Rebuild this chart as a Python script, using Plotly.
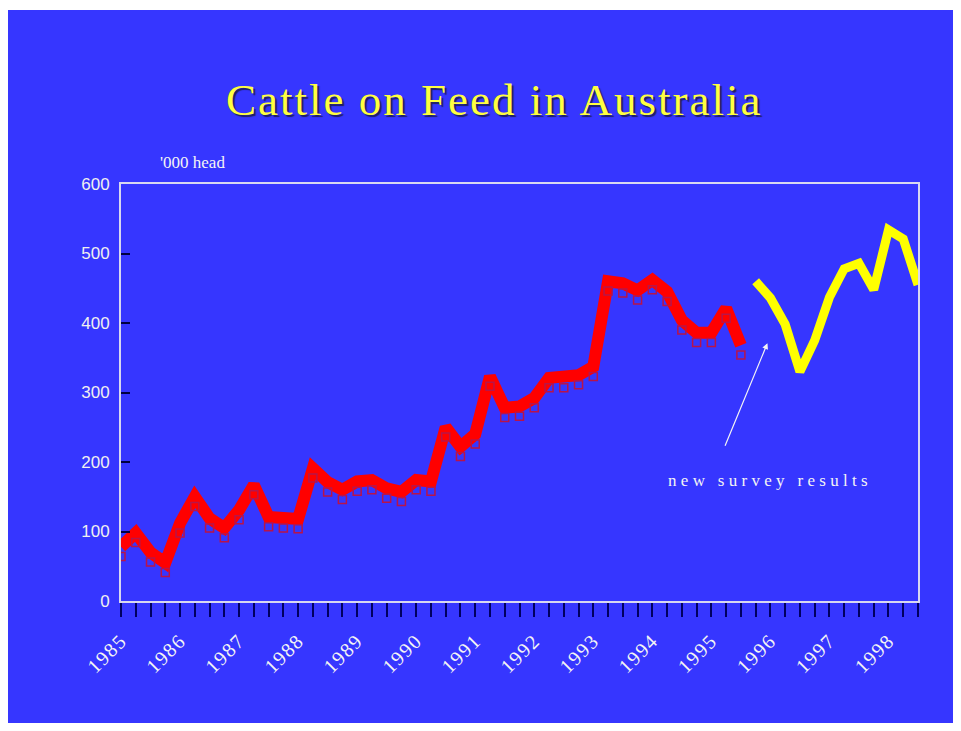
import plotly.graph_objects as go

# quarterly series, '000 head, starting 1985 Q1
start_year = 1985
old_survey = [78, 98, 70, 55, 112, 150, 119, 105, 131, 167, 121, 119, 118,
              191, 171, 160, 172, 174, 162, 157, 174, 172, 250, 222, 240,
              323, 278, 280, 292, 321, 321, 325, 337, 460, 457, 447, 462,
              445, 404, 386, 386, 421, 368]
new_survey = [460, 436, 398, 330, 375, 437, 478, 486, 448, 534, 521, 455]
years = list(range(1985, 1999))
y_ticks = [0, 100, 200, 300, 400, 500, 600]

x_old = [start_year + q / 4 for q in range(len(old_survey))]
x_new = [start_year + (len(old_survey) + q) / 4 for q in range(len(new_survey))]

BLUE = "#3636ff"
TEXT = "#f4f4f4"

fig = go.Figure()

# thick red line
fig.add_trace(go.Scatter(
    x=x_old, y=old_survey, mode="lines",
    line=dict(color="#ff0000", width=12),
    hoverinfo="skip",
))
fig.add_trace(go.Scatter(
    x=x_new, y=new_survey, mode="lines",
    line=dict(color="#ffff00", width=9),
    hoverinfo="skip",
))
# square "shadow" markers, drawn on a slightly shifted overlay axis
fig.add_trace(go.Scatter(
    x=x_old, y=old_survey, mode="markers", yaxis="y2",
    marker=dict(symbol="square-open", size=8, color="#b8144a",
                line=dict(width=1.5, color="#b8144a")),
    hoverinfo="skip",
))

# the page body adds an 8px white margin on the left and top
fig.update_layout(
    width=953, height=715,
    margin=dict(l=113, r=43, t=176, b=122),
    paper_bgcolor=BLUE, plot_bgcolor=BLUE,
    showlegend=False,
    xaxis=dict(
        range=[1985, 1998.5], tickmode="array", tickvals=years,
        ticktext=['<span style="letter-spacing:1.5px">%d</span>' % y for y in years],
        tickangle=-45,
        ticks="outside", ticklen=14, tickwidth=2, tickcolor="#000060",
        minor=dict(dtick=0.25, tick0=1985, ticks="outside", ticklen=14,
                   tickwidth=2, tickcolor="#000060"),
        showgrid=False, zeroline=False,
        showline=True, linecolor="#d8d8f0", linewidth=2, mirror=True,
        ticklabelstandoff=4,
        tickfont=dict(family="Liberation Serif", size=20, color=TEXT),
    ),
    yaxis=dict(
        range=[0, 600], tickvals=y_ticks,
        ticks="inside", ticklen=9, tickwidth=2, tickcolor="#000040",
        showgrid=False, zeroline=False,
        showline=True, linecolor="#d8d8f0", linewidth=2, mirror=True,
        ticklabelstandoff=6,
        tickfont=dict(family="Liberation Sans", size=17, color="#f0f0f0"),
    ),
    yaxis2=dict(range=[14, 614], overlaying="y", visible=False),
)

# extra white at the top of the slide
fig.add_shape(type="rect", xref="paper", yref="paper",
              x0=-0.2, x1=1.2, y0=(593 - 2) / 417, y1=1.5,
              fillcolor="white", line_width=0, layer="above")

fig.add_annotation(
    text='<span style="letter-spacing:2px">Cattle on Feed in Australia</span>',
    xref="paper", yref="paper",
    x=0.4686, y=1.2014, xanchor="center", yanchor="middle", showarrow=False,
    font=dict(family="Liberation Serif", size=45, color="#ffff40",
              shadow="2px 2px 1px #202060"),
)
fig.add_annotation(
    text="'000 head", xref="paper", yref="paper",
    x=0.046, y=1.052, xanchor="left", yanchor="middle", showarrow=False,
    font=dict(family="Liberation Serif", size=17, color=TEXT),
)
fig.add_annotation(
    text='<span style="letter-spacing:4.3px">new survey results</span>',
    xref="x", yref="y", x=1996.0, y=174, xanchor="center", yanchor="middle",
    showarrow=False,
    font=dict(family="Liberation Serif", size=17, color=TEXT),
)
fig.add_annotation(
    text="", xref="x", yref="y", x=1995.95, y=371,
    ax=-43, ay=104, showarrow=True, arrowhead=2, arrowsize=1,
    arrowwidth=1.2, arrowcolor=TEXT,
)

fig.write_html("out.html")
